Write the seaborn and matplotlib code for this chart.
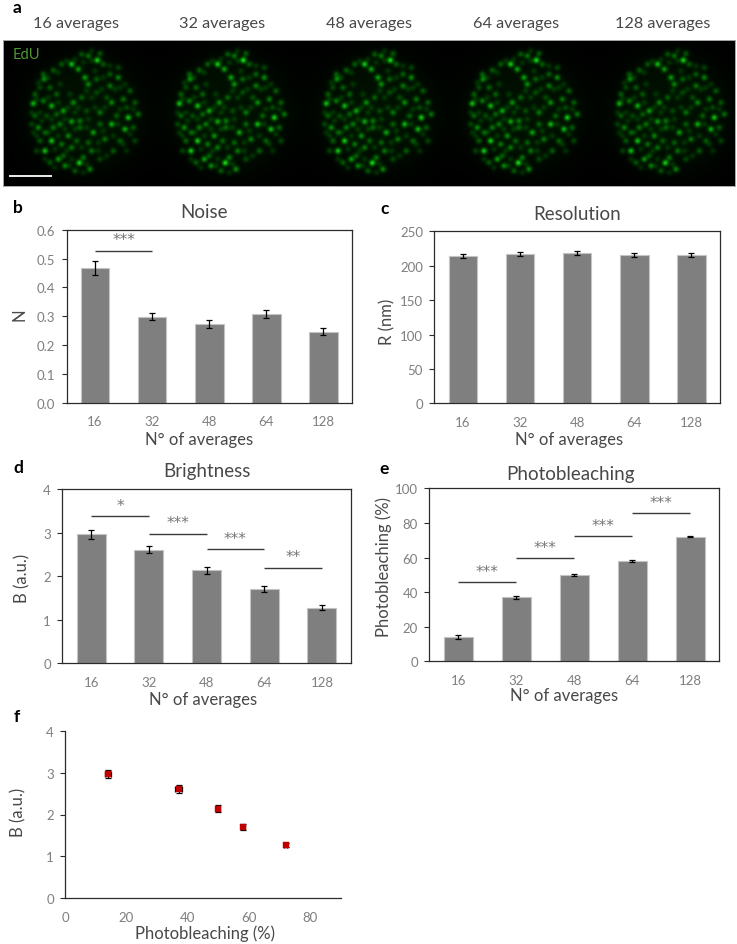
import numpy as np
import pandas as pd
import matplotlib
matplotlib.use("Agg")
import matplotlib.pyplot as plt
import seaborn as sns

W, H = 737, 945

averages = ["16", "32", "48", "64", "128"]
noise = [0.468, 0.298, 0.274, 0.308, 0.247]
noise_err = [0.025, 0.012, 0.013, 0.014, 0.013]
resolution = [214, 217, 218, 216, 216]
resolution_err = [3, 3, 3, 3, 3]
brightness = [2.96, 2.61, 2.14, 1.71, 1.28]
brightness_err = [0.10, 0.09, 0.08, 0.07, 0.05]
photobleaching = [14, 37, 50, 58, 72]
photobleaching_err = [1.0, 1.0, 0.7, 0.6, 0.4]

# significance brackets: first category, last category, level, stars
noise_sig = [(0, 1, 0.527, "***")]
brightness_sig = [(0, 1, 3.37, "*"), (1, 2, 2.97, "***"), (2, 3, 2.62, "***"), (3, 4, 2.195, "**")]
bleach_sig = [(0, 1, 45.7, "***"), (1, 2, 59.7, "***"), (2, 3, 72.4, "***"), (3, 4, 85.5, "***")]

image_titles = ["16 averages", "32 averages", "48 averages", "64 averages", "128 averages"]
image_gain = [0.92, 1.0, 0.98, 0.98, 0.92]

spots = [(232,48,1.0),(155,60,.9),(175,75,.7),(205,35,.5),(185,30,.4),(240,28,.4),(125,60,.4),(100,78,.4),
         (72,105,.6),(70,90,.4),(60,130,.3),(40,178,.85),(70,170,.5),(95,185,.8),(130,200,.7),(160,175,.6),
         (185,160,.4),(195,100,.7),(205,120,.6),(230,105,.4),(270,125,.5),(270,90,.4),(295,100,.6),(250,60,.4),
         (295,70,.3),(330,140,.4),(310,165,.5),(275,175,.6),(345,175,.4),(355,210,.5),(325,220,.9),(240,205,.5),
         (275,240,.8),(315,255,.8),(340,250,.4),(220,265,.7),(180,230,.5),(155,232,.7),(120,240,.5),(100,250,.5),
         (145,275,.6),(95,290,.9),(55,250,.6),(60,290,.4),(75,320,.9),(115,345,.7),(90,355,.4),(135,365,.6),
         (178,356,1.0),(210,375,.6),(165,380,.4),(215,320,.5),(190,340,.5),(155,310,.5),(125,300,.5),(255,285,.5),
         (280,320,.4),(300,290,.4),(240,345,.3),(205,295,.4),(45,215,.4),(35,240,.3),(45,150,.4),(90,130,.4),
         (110,150,.4),(200,200,.3),(260,160,.3),(230,145,.3),(345,290,.3),(180,250,.4),(240,240,.4),(130,335,.4),
         (170,290,.4),(50,320,.3),(110,210,.4),(80,215,.3),(75,265,.4),(320,190,.3),(290,215,.4)]
faint_spots = [(215,50),(190,55),(140,50),(115,85),(85,100),(55,115),(50,165),(85,160),(115,175),(145,190),
               (175,190),(200,140),(215,160),(245,135),(250,100),(285,135),(300,130),(315,120),(340,195),(300,195),
               (255,190),(225,190),(205,225),(165,205),(135,225),(95,225),(65,230),(50,275),(85,265),(115,275),
               (135,255),(165,255),(200,250),(250,260),(295,240),(330,270),(310,300),(280,275),(235,295),(185,310),
               (140,320),(105,315),(75,345),(155,345),(200,360),(235,320),(260,335),(105,370),(150,365),(190,385),
               (120,120),(150,150),(225,80),(215,20),(165,45),(60,205),(35,205),(40,265),(320,320),(270,65)]

sns.set_theme(style="white")
plt.rcParams["font.family"] = ["Lato", "DejaVu Sans"]

TICK = "#7f7f7f"
TEXT = "#484848"
SPINE = "#2b2b2b"
BAR = "#7f7f7f"

fig = plt.figure(figsize=(W / 100, H / 100), dpi=100)


def axes_px(left, top, right, bottom):
    return fig.add_axes([left / W, 1 - bottom / H, (right - left) / W, (bottom - top) / H])


def text_px(x, y, s, **kw):
    kw.setdefault("ha", "center")
    kw.setdefault("va", "center")
    fig.text(x / W, 1 - y / H, s, **kw)


def to_axes(rect, x, y):
    l, t, r, b = rect
    return (x - l) / (r - l), (b - y) / (b - t)


def dress(ax, rect, xlabel, ylabel, xpos, ypos, title=None, tpos=None, box=True):
    for s in ax.spines.values():
        s.set_color(SPINE)
        s.set_linewidth(0.9)
    ax.spines["top"].set_visible(box)
    ax.spines["right"].set_visible(box)
    ax.tick_params(axis="y", left=True, length=3.6, width=0.8, color=SPINE, pad=4.5, labelsize=9.5, labelcolor=TICK)
    ax.tick_params(axis="x", bottom=False, length=0, pad=9, labelsize=9.5, labelcolor=TICK)
    ax.set_xlabel(xlabel, fontsize=12, color=TEXT)
    ax.set_ylabel(ylabel, fontsize=12, color=TEXT)
    ax.xaxis.set_label_coords(*to_axes(rect, *xpos))
    ax.yaxis.set_label_coords(*to_axes(rect, *ypos))
    ax.xaxis.label.set_va("center")
    ax.yaxis.label.set_va("center")
    if title:
        tx, ty = to_axes(rect, *tpos)
        ax.set_title(title, x=tx, y=ty, pad=0, fontsize=13.5, color=TEXT, va="center")


def bar_panel(rect, values, errs, ylim, yticks, yfmt, ylabel, title, xpos, ypos, tpos, sig=()):
    ax = axes_px(*rect)
    df = pd.DataFrame({"avg": averages, "v": values})
    sns.barplot(data=df, x="avg", y="v", order=averages, color=BAR, saturation=1, width=0.5,
                edgecolor="#c4c4c4", linewidth=0.8, errorbar=None, ax=ax)
    ax.errorbar(range(len(values)), values, yerr=errs, fmt="none", ecolor="black",
                elinewidth=0.9, capsize=2.3, capthick=0.9, zorder=5)
    ax.set_xlim(-0.5, 4.5)
    ax.set_ylim(*ylim)
    ax.set_yticks(yticks)
    ax.set_yticklabels([yfmt.format(t) for t in yticks])
    dress(ax, rect, "N° of averages", ylabel, xpos, ypos, title, tpos)
    for i, j, y, stars in sig:
        ax.plot([i, j], [y, y], color="#3a3a3a", lw=1.0, solid_capstyle="butt", zorder=4)
        ax.annotate(stars, ((i + j) / 2, y), xytext=(0, 2.5), textcoords="offset points", ha="center",
                    va="bottom", fontsize=11, color="#767676", family="DejaVu Sans")
    return ax


# panel a: micrograph strip
strip = (3, 41, 735, 187)
ax_a = axes_px(*strip)
xs, ys = np.meshgrid(np.arange(strip[0], strip[2]) + 0.5, np.arange(strip[1], strip[3]) + 0.5)
green = np.zeros_like(xs)
cx_list = [85, 231, 378, 524, 671]
cy = 113.5
all_spots = spots + [(x, y, 0.2) for x, y in faint_spots]
for cx, gain in zip(cx_list, image_gain):
    r = np.hypot(xs - cx, ys - cy)
    green += 0.05 * np.exp(-(r / 56) ** 4) + 0.02 * np.exp(-(r / 75) ** 4)
    for sx, sy, a in all_spots:
        dx, dy = sx / 3 - 65, sy / 3 - 68.3
        green += gain * 0.85 * a * np.exp(-((xs - cx - dx) ** 2 + (ys - cy - dy) ** 2) / (2 * 2.1 ** 2))
green = np.clip(green, 0, 1)
rgb = np.dstack([0.16 * green ** 3, green * 0.92, 0.16 * green ** 3])
ax_a.imshow(rgb, aspect="auto", interpolation="bilinear", extent=(strip[0], strip[2], strip[3], strip[1]))
ax_a.set_xticks([])
ax_a.set_yticks([])
for s in ax_a.spines.values():
    s.set_color("#a8a8a8")
    s.set_linewidth(0.7)
ax_a.plot([8.5, 52], [176.5, 176.5], color="white", lw=1.3, solid_capstyle="butt")
ax_a.set_xlim(strip[0], strip[2])
ax_a.set_ylim(strip[3], strip[1])
ax_a.text(26, 55, "EdU", color="#4f9a30", fontsize=10.5, ha="center", va="center")
for x, t in zip([76, 222, 369, 516, 663], image_titles):
    text_px(x, 24, t, fontsize=11.7, color=TEXT)

# panels b-e: bars
bar_panel((66.5, 230.7, 352, 404), noise, noise_err, (0, 0.6), [0, 0.1, 0.2, 0.3, 0.4, 0.5, 0.6], "{:.1f}",
          "N", "Noise", (199, 440), (20, 315), (204, 213), noise_sig)
bar_panel((434.3, 232.3, 720, 404.3), resolution, resolution_err, (0, 250), [0, 50, 100, 150, 200, 250], "{:d}",
          "R (nm)", "Resolution", (569, 440), (387, 322), (577, 214))
bar_panel((62.3, 490, 350.7, 664.3), brightness, brightness_err, (0, 4), [0, 1, 2, 3, 4], "{:d}",
          "B (a.u.)", "Brightness", (203, 700.5), (22, 578), (207, 472), brightness_sig)
bar_panel((429.3, 489.3, 719, 662.3), photobleaching, photobleaching_err, (0, 100), [0, 20, 40, 60, 80, 100], "{:d}",
          "Photobleaching (%)", "Photobleaching", (564, 695.5), (384, 567), (570, 475), bleach_sig)

# panel f: scatter
rect_f = (65.3, 731.7, 340.7, 899.3)
ax_f = axes_px(*rect_f)
ax_f.errorbar(photobleaching, brightness, xerr=photobleaching_err, yerr=brightness_err, fmt="none",
              ecolor="black", elinewidth=0.9, capsize=2.3, capthick=0.9, zorder=2)
sns.scatterplot(x=photobleaching, y=brightness, marker="s", s=16, color="#c00000", edgecolor="#c00000",
                linewidth=0.3, zorder=3, ax=ax_f)
ax_f.set_xlim(0, 90)
ax_f.set_ylim(0, 4)
ax_f.set_xticks([0, 20, 40, 60, 80])
ax_f.set_yticks([0, 1, 2, 3, 4])
dress(ax_f, rect_f, "Photobleaching (%)", "B (a.u.)", (205, 934), (18, 812), box=False)

# panel letters
for x, y, s in [(17, 8, "a"), (18, 208, "b"), (385, 209, "c"), (18, 468, "d"), (384, 469, "e"), (17, 717, "f")]:
    text_px(x, y, s, fontsize=12.5, fontweight="bold", color="black")

fig.savefig("out.png", dpi=100, facecolor="white")
